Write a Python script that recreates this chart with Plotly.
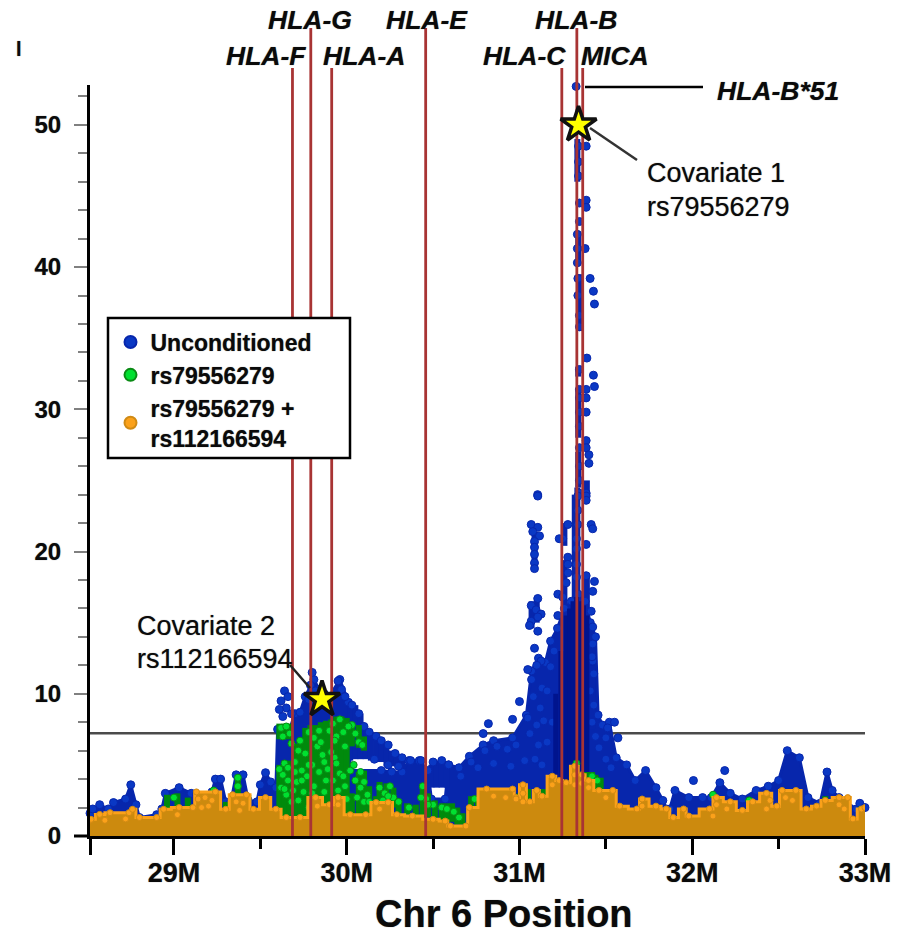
import plotly.graph_objects as go

gene_names = ["HLA-F", "HLA-G", "HLA-A", "HLA-E", "HLA-C", "HLA-B", "MICA"]
gene_pos = [29.686, 29.792, 29.913, 30.457, 31.245, 31.332, 31.366]
threshold = 7.22
cov_x = [31.342, 29.857]
cov_y = [50.0, 9.6]

blue_env_x = [28.514,28.53,28.57,28.62,28.65,28.72,28.75,28.78,28.80,28.90,28.93,28.95,29.03,29.10,29.13,29.22,29.24,29.27,29.30,29.33,29.36,29.40,29.43,29.48,29.50,29.53,29.56,29.59,29.60,29.67,29.70,29.73,29.76,29.81,29.84,29.90,29.96,30.01,30.02,30.20,30.26,30.32,30.36,30.42,30.47,30.49,30.57,30.59,30.65,30.71,30.79,30.85,30.96,31.04,31.07,31.11,31.15,31.18,31.22,31.26,31.30,31.34,31.38,31.41,31.44,31.455,31.48,31.52,31.56,31.62,31.67,31.73,31.79,31.83,31.85,31.87,31.90,31.98,32.06,32.11,32.16,32.22,32.29,32.37,32.44,32.50,32.55,32.62,32.67,32.74,32.78,32.81,32.85,32.95,32.97,33.0]
blue_env_y = [1.6,1.9,2.2,1.9,2.35,2.6,3.6,2.2,1.3,1.5,1.9,3.0,3.4,3.0,2.9,3.1,4.0,4.0,2.4,2.4,4.3,4.3,2.5,2.4,3.6,4.45,3.8,3.4,7.5,7.5,8.6,8.7,9.8,11.0,10.3,9.8,11.0,9.4,4.6,4.6,4.5,4.5,5.3,5.3,4.6,2.6,2.6,5.0,4.8,5.6,6.4,6.7,6.9,8.5,11.6,12.5,12.2,13.7,14.6,16.0,16.5,17.0,16.5,15.0,14.0,8.5,7.8,8.0,5.5,5.0,3.9,4.6,3.4,2.5,1.9,1.9,3.2,2.7,2.7,2.7,3.75,3.0,2.6,3.2,3.5,3.9,6.0,5.5,2.7,2.3,4.5,3.2,2.7,1.9,2.3,2.0]

blue_band_x = [30.02,30.05,30.08,30.11,30.14,30.17,30.20,30.23,30.26,30.29,30.32,30.49,30.52,30.55,30.58,31.335,31.34,31.345,31.34,31.34,31.34,31.335,31.32,31.26,31.26,31.39,31.39,31.087,31.42,31.07,31.10,31.42]
blue_band_lo = [5.3,5.4,5.4,5.4,5.3,5.2,5.2,4.9,4.9,4.9,4.5,3.4,3.4,3.4,3.4,46.0,40.2,35.5,32.3,28.0,24.5,17.0,16.0,16.0,20.4,24.0,15.5,18.8,12.0,14.6,15.0,7.5]
blue_band_hi = [9.4,9.2,8.6,7.6,7.3,7.0,6.7,6.5,6.0,5.7,5.5,5.0,5.3,5.3,5.1,49.0,42.5,39.5,33.0,31.5,27.0,24.5,24.0,19.4,22.0,25.0,18.3,21.2,14.5,16.5,16.8,12.0]
blue_core_x = [31.27,31.29,31.31,31.33,31.35,31.37,31.39,31.24,31.21]
blue_core_hi = [15.5,16.0,16.5,16.8,16.5,16.2,15.5,13.0,10.0]

blue_pts_x = [31.328,31.342,31.386,31.342,31.342,31.347,31.386,31.386,31.347,31.335,31.335,31.335,31.38,31.338,31.409,31.338,31.428,31.434,31.347,31.347,31.39,31.347,31.428,31.434,31.347,31.386,31.347,31.386,31.347,31.386,31.347,31.386,31.347,31.386,31.402,31.402,31.347,31.347,31.105,31.347,31.386,31.106,31.386,31.338,31.386,31.338,31.338,31.28,31.415,31.424,31.25,31.23,31.33,31.386,31.33,31.068,31.106,31.077,31.116,31.087,31.087,31.087,31.087,31.087,31.28,31.28,31.33,31.28,31.33,31.386,31.434,31.27,31.424,31.222,31.25,31.106,31.068,31.096,31.125,31.068,31.106,31.058,31.106,31.222,31.415,31.424,31.087,31.424,31.424,31.125,31.048,31.0,30.96,31.048,30.82,30.79,31.55,31.51,31.57,31.5,32.007,32.188,29.62,29.64,29.65,29.61,29.63,29.68,29.66,29.79,29.80,29.78,29.82,29.87,29.95,29.97,29.99]
blue_pts_y = [52.7,48.5,48.5,47.4,46.4,44.5,44.7,44.2,43.2,42.3,41.3,40.3,41.3,39.2,39.2,38.0,38.3,37.4,36.6,35.8,33.6,32.8,32.4,31.6,31.4,31.4,30.8,30.8,29.8,29.8,28.8,27.8,27.3,27.3,26.8,26.2,26.0,25.0,24.0,24.1,24.1,23.9,23.9,23.9,23.6,22.9,21.9,21.9,21.9,21.6,20.9,20.9,20.9,20.5,20.2,21.9,21.7,21.4,21.1,20.7,20.3,19.8,19.2,18.8,19.6,19.1,19.1,18.5,18.2,18.3,17.9,17.8,17.2,17.0,16.8,16.7,16.2,15.9,15.6,15.1,15.4,14.8,14.4,15.5,15.8,14.7,13.2,13.5,12.3,12.3,11.7,9.45,8.2,8.3,7.9,7.2,8.0,7.6,6.9,6.9,3.9,4.6,9.5,10.2,9.0,8.9,8.4,8.6,9.8,10.6,11.5,9.6,10.2,10.0,10.9,10.3,9.8]
blue_bright_x = [31.07,31.10,31.13,31.08,31.12,31.16,31.10,31.14,31.18,31.06,31.11,31.16,31.20,31.09,31.13,31.19,31.42,31.43,31.41,31.43,31.42,31.44,31.46,31.50,31.53,30.72,30.80,30.87,30.93,30.98,30.66,30.76,30.85,30.95,31.03,30.03,30.07,30.10,30.13,30.17,30.20,30.24,30.28,30.32,30.37,30.43,30.50,30.55,30.59,30.16,30.24,30.30]
blue_bright_y = [11.0,12.0,10.4,9.8,9.0,10.2,7.8,8.1,11.9,7.2,6.4,6.6,13.0,5.4,5.0,8.0,12.6,11.4,10.2,9.2,8.0,7.0,6.2,5.4,4.8,5.2,6.0,6.3,6.1,6.4,4.2,4.8,5.1,4.9,5.3,9.2,8.6,7.7,7.3,7.0,6.7,6.4,5.8,5.5,5.3,5.3,5.2,5.3,5.0,5.4,5.0,4.9]

green_x = [28.96,29.02,29.08,29.23,29.30,29.37,29.43,29.61,29.61,29.64,29.64,29.67,29.67,29.70,29.73,29.76,29.79,29.82,29.85,29.88,29.91,29.94,29.97,30.00,30.03,30.03,30.07,30.07,30.10,30.10,30.13,30.17,30.19,30.23,30.27,30.30,30.35,30.40,30.44,30.47,30.51,30.55,30.58,30.61,30.64,30.67,30.72,30.76,31.00,31.05,31.14,31.33,31.39,31.42,31.44,31.47,32.12,32.24,32.33,32.44,32.55,32.77,32.98]
green_lo = [1.9,1.9,1.9,3.0,1.9,2.9,2.5,6.8,1.3,6.8,1.3,6.8,1.3,1.3,1.3,1.3,1.3,1.3,1.3,1.3,1.3,1.3,1.3,1.3,6.3,1.5,6.2,1.5,6.0,1.5,1.5,1.5,2.0,2.0,2.0,1.5,1.5,1.4,1.4,1.3,1.2,1.0,1.0,1.0,0.8,0.8,2.0,2.0,2.7,2.4,2.8,4.9,3.8,3.8,3.3,3.2,2.7,2.2,2.2,3.0,3.2,2.5,1.9]
green_hi = [2.9,3.0,2.7,3.3,2.4,4.3,2.9,7.9,5.0,7.9,5.3,7.9,5.3,6.5,6.9,7.6,7.8,7.8,8.0,8.1,8.2,8.4,8.4,8.3,8.0,3.0,7.8,4.5,7.0,4.6,3.5,2.8,3.8,3.7,3.4,2.6,2.3,2.2,3.7,3.0,2.5,2.3,2.3,2.3,2.0,1.6,2.8,2.8,3.0,3.3,3.3,5.3,4.5,4.5,4.3,4.1,3.0,2.4,2.6,3.1,3.3,2.8,2.1]
green_pts_x = [29.62,29.65,29.67,29.63,29.64,29.63,29.66,29.62,29.65,29.68,29.72,29.70,29.74,29.71,29.75,29.72,29.78,29.78,29.81,29.84,29.83,29.87,29.80,29.84,29.88,29.81,29.77,29.92,29.94,29.96,29.98,29.99,29.93,29.96,29.99,29.95,30.0,30.03,30.05,30.07,30.09,30.05,30.08,30.10,30.06,30.1,30.12,30.19,30.22,30.25,30.27,30.3,30.36,30.44,30.46,30.5,30.55,30.58,30.62,30.65,29.37,29.37,29.0,29.23,30.74,31.42,31.45,31.33,32.12,32.33,29.68,29.73,29.76,29.70,29.78,29.85,29.90,29.93,29.86,29.91,29.89,29.94,30.01,30.02,30.04,30.08,30.13,30.21,30.24,30.43,30.47,29.66,29.61,29.64,29.69,29.74,29.80,29.87,29.92,29.98]
green_pts_y = [7.6,7.7,7.2,7.0,5.1,4.3,3.9,3.4,2.9,2.4,6.0,5.2,4.6,3.8,3.1,2.5,2.0,7.3,6.9,7.4,6.3,5.2,5.0,4.5,3.9,3.5,4.2,7.9,7.0,8.2,7.3,6.3,5.5,4.4,3.5,3.2,2.6,7.8,7.2,6.6,6.4,3.9,4.5,3.8,2.7,2.4,2.9,3.4,3.0,3.5,2.7,2.4,2.0,3.5,2.6,2.2,2.0,1.9,1.7,1.3,4.1,3.5,2.7,3.2,2.6,4.2,3.9,5.1,2.9,2.5,6.5,6.7,5.8,4.5,5.0,6.6,7.4,6.7,5.7,5.9,4.7,5.1,7.7,4.6,5.0,3.4,2.4,2.5,2.8,2.7,2.2,4.8,4.7,3.3,3.2,3.9,3.0,3.1,3.9,4.2]

orange_x = [28.514,28.52,28.57,28.63,28.74,28.76,28.80,28.90,28.94,29.03,29.11,29.13,29.24,29.30,29.34,29.42,29.46,29.53,29.59,29.65,29.73,29.82,29.90,29.95,30.02,30.11,30.17,30.24,30.29,30.38,30.50,30.57,30.60,30.69,30.71,30.81,30.96,30.98,31.02,31.06,31.10,31.13,31.19,31.23,31.27,31.32,31.36,31.40,31.46,31.54,31.58,31.68,31.71,31.79,31.85,31.89,31.95,31.98,32.10,32.14,32.22,32.29,32.35,32.43,32.49,32.52,32.60,32.66,32.72,32.77,32.85,32.90,32.93,32.98,33.0]
orange_y = [1.1,1.17,1.52,1.64,1.64,1.88,1.3,1.3,1.88,2.0,2.0,3.1,3.1,1.88,2.9,2.9,1.88,2.7,1.88,1.3,1.3,2.7,2.2,2.7,1.5,1.5,2.35,2.35,1.5,1.4,1.17,1.05,0.7,0.7,2.0,3.3,3.3,2.7,3.6,2.4,3.2,2.8,4.2,3.9,3.75,4.9,4.3,3.9,3.2,3.2,2.1,1.9,2.6,2.1,1.9,1.3,1.9,1.4,1.9,2.7,2.4,1.8,2.4,3.0,2.1,3.2,3.2,1.9,2.1,2.5,2.7,2.7,1.2,1.9,2.0]
orange_pts_x = [29.14,29.18,29.22,29.16,29.2,29.36,29.40,29.38,31.02,31.02,31.19,31.32,31.32,31.36,30.85,30.92,32.45,32.43,32.54,32.58,32.85,32.88,32.14,29.83,29.95,30.19,28.72,28.6,31.4,31.5,29.02,30.98,32.12,32.2,31.71]
orange_pts_y = [2.6,2.7,2.5,2.0,2.1,2.4,2.3,1.8,3.0,2.4,3.6,4.3,3.6,3.7,2.8,2.7,2.5,1.9,2.7,2.5,2.2,1.9,2.2,2.1,2.2,1.9,1.2,1.1,3.4,2.7,1.5,2.6,1.4,1.9,2.1]

legend_labels = ["Unconditioned", "rs79556279", "rs79556279 +<br>rs112166594"]
x_ticks = [28.515, 29, 30, 31, 32, 33]
x_labels = ["", "29M", "30M", "31M", "32M", "33M"]
x_minor = [29.5, 30.5, 31.5, 32.5]
y_ticks = [0, 10, 20, 30, 40, 50]

BLUE, BLUE_M, BLUE_D = "#0A38C4", "#0726AC", "#00148E"
GREEN, GREEN_D = "#00E030", "#008A0C"
ORANGE, ORANGE_D = "#FBA11A", "#CC8A0E"
RED = "#A83434"
FONT = "Liberation Sans"
SHADOW = "0 0 1px rgba(0,0,0,0.55)"
W, H, L, R, T, B = 907, 935, 90, 42, 85, 99


def px(v):
    return (v - L) / (W - L - R)


def py(v):
    return (H - B - v) / (H - T - B)


def segments(xs, lo, hi):
    sx, sy = [], []
    for a, b, c in zip(xs, lo, hi):
        sx += [a, a, None]
        sy += [b, c, None]
    return sx, sy


fig = go.Figure()
fig.add_trace(go.Scatter(x=blue_env_x, y=blue_env_y, mode="lines", fill="tozeroy", fillcolor=BLUE_M,
                         line=dict(color=BLUE_M, width=3), showlegend=False, hoverinfo="skip"))
sx, sy = segments(blue_band_x, blue_band_lo, blue_band_hi)
fig.add_trace(go.Scatter(x=sx, y=sy, mode="lines", line=dict(color=BLUE_M, width=6), showlegend=False, hoverinfo="skip"))
fig.add_trace(go.Scatter(x=blue_env_x + blue_pts_x + blue_bright_x, y=blue_env_y + blue_pts_y + blue_bright_y,
                         mode="markers", name=legend_labels[0], cliponaxis=False,
                         marker=dict(color=BLUE, size=8, line=dict(color=BLUE_M, width=1))))
sx, sy = segments(blue_core_x, [0] * len(blue_core_x), blue_core_hi)
fig.add_trace(go.Scatter(x=sx, y=sy, mode="lines", line=dict(color=BLUE_D, width=5), showlegend=False, hoverinfo="skip"))
sx, sy = segments(green_x, green_lo, green_hi)
fig.add_trace(go.Scatter(x=sx, y=sy, mode="lines", line=dict(color=GREEN_D, width=6), showlegend=False, hoverinfo="skip"))
fig.add_trace(go.Scatter(x=green_pts_x, y=green_pts_y, mode="markers", name=legend_labels[1],
                         marker=dict(color=GREEN, size=7, line=dict(color="#0A8A14", width=1))))
fig.add_trace(go.Scatter(x=orange_x, y=orange_y, mode="lines", fill="tozeroy", fillcolor=ORANGE_D,
                         line=dict(color=ORANGE, width=3, shape="hvh"), showlegend=False, hoverinfo="skip"))
fig.add_trace(go.Scatter(x=orange_x + orange_pts_x, y=orange_y + orange_pts_y, mode="markers", name=legend_labels[2],
                         marker=dict(color=ORANGE, size=6, line=dict(color="#D08A14", width=1))))
sx, sy = segments(gene_pos, [0] * 7, [52.8] * 7)
fig.add_trace(go.Scatter(x=sx, y=sy, mode="lines", line=dict(color=RED, width=2.8), showlegend=False, hoverinfo="skip"))
fig.add_trace(go.Scatter(x=cov_x, y=cov_y, mode="markers", showlegend=False, hoverinfo="skip",
                         marker=dict(symbol="star", size=27, color="#FFFF00", line=dict(color="#111111", width=3.5))))

shapes = [dict(type="line", xref="paper", yref="y", x0=0, x1=1, y0=threshold, y1=threshold,
               line=dict(color="#4A4A4A", width=2.5), layer="below")]
tops = [68, 28, 68, 28, 68, 28, 68]
for g, t in zip(gene_pos, tops):
    shapes.append(dict(type="line", xref="x", yref="paper", x0=g, x1=g, y0=1, y1=py(t), line=dict(color=RED, width=2.8)))
for (x0, y0, x1, y1, c, w) in [(585, 87, 703, 87, "black", 2.5), (590, 128, 637, 160, "#333333", 2.5),
                               (290, 665, 310, 688, "#222222", 2.5), (74, 836, 90, 836, "black", 3)]:
    shapes.append(dict(type="line", xref="paper", yref="paper", x0=px(x0), x1=px(x1), y0=py(y0), y1=py(y1), line=dict(color=c, width=w)))
# Legend frame: the legend sits on top of it, transparent.
shapes.append(dict(type="rect", xref="paper", yref="paper", x0=px(108), x1=px(350), y0=py(318), y1=py(458),
                   fillcolor="white", line=dict(color="black", width=2.5)))

ann = []


def text(s, x, y, size, anchor="center", bold=False, italic=False):
    ann.append(dict(text=s, xref="paper", yref="paper", x=px(x), y=py(y), xanchor=anchor, yanchor="middle", showarrow=False,
                    font=dict(family=FONT, size=size, color="#0A0A0A", weight="bold" if bold else "normal",
                              style="italic" if italic else "normal", shadow=SHADOW)))


for name, x, y in [("HLA-G", 310, 20), ("HLA-E", 427, 20), ("HLA-B", 576, 20), ("HLA-F", 266, 56), ("HLA-A", 364, 56), ("HLA-C", 524, 56), ("MICA", 615, 56), ("HLA-B*51", 778, 91)]:
    text(name, x, y, 26.5, bold=True, italic=True)
text("Covariate 1", 645, 173, 27, "left")
text("rs79556279", 645, 207, 27, "left")
text("Covariate 2", 135, 626, 27, "left")
text("rs112166594", 135, 659, 27, "left")
text("Chr 6 Position", 504, 914, 38, bold=True)
text("l", 19, 49, 20, bold=True)

tick_font = dict(family=FONT, size=24, weight="bold", color="#0A0A0A", shadow=SHADOW)
fig.update_layout(
    width=W, height=H, margin=dict(l=L, r=R, t=T, b=B), plot_bgcolor="white", paper_bgcolor="white",
    font=dict(family=FONT, color="#0A0A0A"), shapes=shapes, annotations=ann,
    legend=dict(x=px(108), y=py(318), xanchor="left", yanchor="top", bgcolor="rgba(0,0,0,0)", borderwidth=2.5, bordercolor="rgba(0,0,0,0)",
                itemsizing="constant", font=dict(family=FONT, size=23, weight="bold", color="#0A0A0A", shadow=SHADOW), tracegroupgap=0),
    xaxis=dict(range=[28.514, 33.0], tickmode="array", tickvals=x_ticks, ticktext=x_labels, showgrid=False, zeroline=False,
               showline=True, linecolor="black", linewidth=3, ticks="outside", ticklen=16, tickwidth=3, tickcolor="black",
               tickfont={**tick_font, "size": 27}, ticklabelstandoff=-5,
               minor=dict(tickmode="array", tickvals=x_minor, ticks="outside", ticklen=10, tickwidth=3, tickcolor="black", showgrid=False)),
    yaxis=dict(range=[0, 52.8], tickmode="array", tickvals=y_ticks, showgrid=False, zeroline=False,
               showline=True, linecolor="black", linewidth=3, ticks="outside", ticklen=13, tickwidth=2, tickcolor="#808080",
               tickfont=tick_font, ticklabelstandoff=8,
               minor=dict(dtick=2, tick0=0, ticks="outside", ticklen=9, tickwidth=2, tickcolor="#808080", showgrid=False)),
)
fig.write_html("out.html", post_script="document.body.style.margin='0';", config={"displayModeBar": False})
